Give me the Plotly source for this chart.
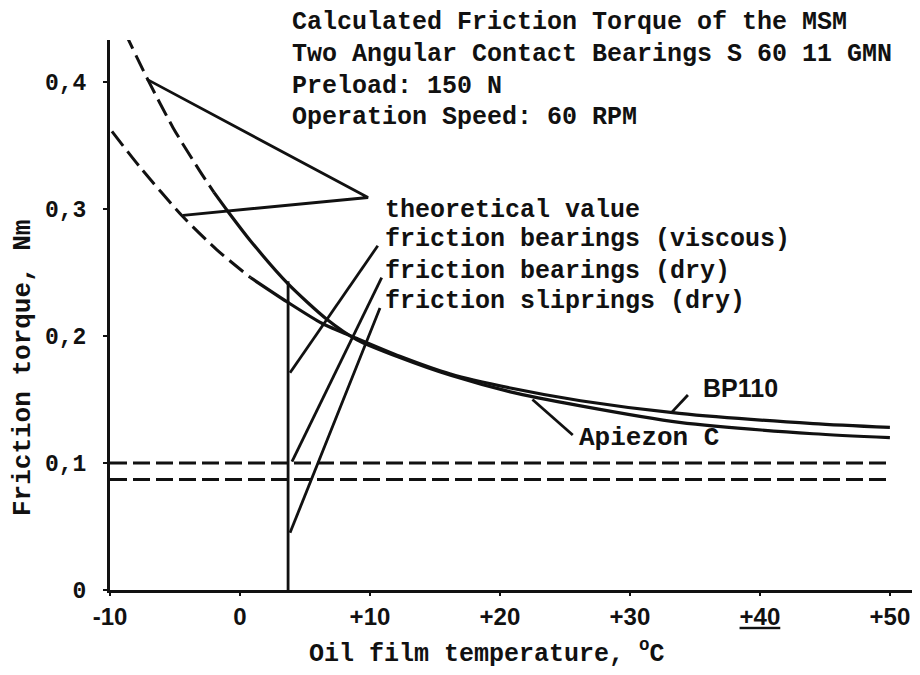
import plotly.graph_objects as go

# ---- data ----
# Apiezon C curve (steep): theoretical (dashed) part and measured (solid) part
apiezon_theo_x = [-8.85, -7.15, -5.15, -3.1, -2.0]
apiezon_theo_y = [0.439, 0.403, 0.364, 0.330, 0.313]
apiezon_x = [-2.0, -1.0, 0.8, 3.7, 6.7, 9.0, 12.3, 16.2, 20.8, 26.2, 33.8, 44.1, 50.0]
apiezon_y = [0.313, 0.299, 0.275, 0.241, 0.213, 0.197, 0.183, 0.169, 0.156, 0.145, 0.132, 0.123, 0.120]

# BP110 curve (shallow)
bp_theo_x = [-9.85, -7.7, -4.4, -1.8, 0.8]
bp_theo_y = [0.361, 0.333, 0.294, 0.268, 0.246]
bp_x = [0.8, 3.6, 6.3, 9.0, 12.3, 16.2, 20.8, 26.2, 33.8, 44.1, 50.0]
bp_y = [0.246, 0.227, 0.210, 0.198, 0.184, 0.170, 0.159, 0.149, 0.139, 0.131, 0.128]

# dry friction levels (horizontal dashed)
level_x = [-10, 50]
bearings_dry_level = [0.100, 0.100]
sliprings_dry_level = [0.087, 0.087]

# measurement at ~3.7 C (vertical line)
meas_x = [3.7, 3.7]
meas_y = [0.0, 0.243]

# pointer lines (x, y pairs)
theo_ptr_x = [-7.15, 9.85, -4.38]
theo_ptr_y = [0.402, 0.309, 0.295]
visc_ptr_x = [3.85, 10.6]
visc_ptr_y = [0.171, 0.271]
bdry_ptr_x = [4.0, 10.9]
bdry_ptr_y = [0.101, 0.246]
sdry_ptr_x = [3.85, 10.77]
sdry_ptr_y = [0.045, 0.222]
bp_ptr_x = [33.23, 34.46]
bp_ptr_y = [0.140, 0.1535]
apz_ptr_x = [22.5, 25.6]
apz_ptr_y = [0.150, 0.122]

x_tickvals = [-10, 0, 10, 20, 30, 40, 50]
x_ticktext = ["-10", "0", "+10", "+20", "+30",
              "<span style='text-decoration:underline'>+40</span>", "+50"]
y_tickvals = [0, 0.1, 0.2, 0.3, 0.4]
y_ticktext = ["0", "0,1", "0,2", "0,3", "0,4"]

title_lines = ["Calculated Friction Torque of the MSM",
               "Two Angular Contact Bearings S 60 11 GMN",
               "Preload: 150 N",
               "Operation Speed: 60 RPM"]
label_texts = ["theoretical value", "friction bearings (viscous)",
               "friction bearings (dry)", "friction sliprings (dry)"]
label_y = [0.299, 0.276, 0.251, 0.227]

BLACK = "#111111"
MONO = "Liberation Mono"

fig = go.Figure()

def line(x, y, width=3, dash="solid", shape="linear"):
    fig.add_trace(go.Scatter(x=x, y=y, mode="lines", showlegend=False,
                             hoverinfo="skip",
                             line=dict(color=BLACK, width=width, dash=dash,
                                       shape=shape, smoothing=0.7)))

line(apiezon_theo_x, apiezon_theo_y, 3, "18px,7px", "spline")
line(apiezon_x, apiezon_y, 3.2, "solid", "spline")
line(bp_theo_x, bp_theo_y, 3, "18px,7px", "spline")
line(bp_x, bp_y, 3.2, "solid", "spline")
line(level_x, bearings_dry_level, 3, "17px,6px")
line(level_x, sliprings_dry_level, 3, "17px,6px")
line(meas_x, meas_y, 2.8)
for px, py in [(theo_ptr_x, theo_ptr_y), (visc_ptr_x, visc_ptr_y),
               (bdry_ptr_x, bdry_ptr_y), (sdry_ptr_x, sdry_ptr_y),
               (bp_ptr_x, bp_ptr_y), (apz_ptr_x, apz_ptr_y)]:
    line(px, py, 2.8)

# plot area in page pixels: x 110..912, y 40..590
def px_x(p):
    return (p - 110) / 802.0

def px_y(p):
    return (590 - p) / 550.0

annotations = []
for t, yp in zip(title_lines, [23, 54, 86, 117]):
    annotations.append(dict(x=px_x(290), y=px_y(yp), xref="paper", yref="paper", text=t,
                            showarrow=False, xanchor="left", yanchor="middle",
                            font=dict(family=MONO, size=25, color=BLACK, weight="bold")))
for t, yy in zip(label_texts, label_y):
    annotations.append(dict(x=11.0, y=yy, xref="x", yref="y", text=t,
                            showarrow=False, xanchor="left", yanchor="middle",
                            font=dict(family=MONO, size=25, color=BLACK, weight="bold")))
annotations.append(dict(x=38.5, y=0.159, xref="x", yref="y", text="BP110",
                        showarrow=False, xanchor="center", yanchor="middle",
                        font=dict(family="Liberation Sans", size=25, color=BLACK, weight="bold")))
annotations.append(dict(x=25.9, y=0.120, xref="x", yref="y", text="Apiezon C",
                        showarrow=False, xanchor="left", yanchor="middle",
                        font=dict(family=MONO, size=26, color=BLACK, weight="bold")))
annotations.append(dict(x=px_x(487), y=px_y(652), xref="paper", yref="paper",
                        text="Oil film temperature, <sup>o</sup>C",
                        showarrow=False, xanchor="center", yanchor="middle",
                        font=dict(family=MONO, size=25, color=BLACK, weight="bold")))
annotations.append(dict(x=px_x(23), y=px_y(368), xref="paper", yref="paper",
                        text="Friction torque, Nm", textangle=-90,
                        showarrow=False, xanchor="center", yanchor="middle",
                        font=dict(family=MONO, size=26, color=BLACK, weight="bold")))

# the page adds an 8 px body margin, so the figure is 904 x 659 starting at (8, 8)
fig.update_layout(
    width=904, height=659,
    margin=dict(l=102, r=0, t=32, b=77),
    paper_bgcolor="white", plot_bgcolor="white",
    showlegend=False,
    annotations=annotations,
    xaxis=dict(range=[-10, 51.7], showgrid=False, zeroline=False,
               showline=True, linecolor=BLACK, linewidth=3,
               ticks="outside", ticklen=3, tickwidth=2, tickcolor=BLACK,
               tickvals=x_tickvals, ticktext=x_ticktext,
               tickfont=dict(family="Liberation Sans", size=24, color=BLACK, weight="bold")),
    yaxis=dict(range=[0, 0.433], showgrid=False, zeroline=False,
               showline=True, linecolor=BLACK, linewidth=3,
               ticks="outside", ticklen=4, tickwidth=2, tickcolor=BLACK,
               tickvals=y_tickvals, ticktext=y_ticktext, ticklabelstandoff=12,
               tickfont=dict(family=MONO, size=23, color=BLACK, weight="bold")),
)

fig.write_html("out.html")
